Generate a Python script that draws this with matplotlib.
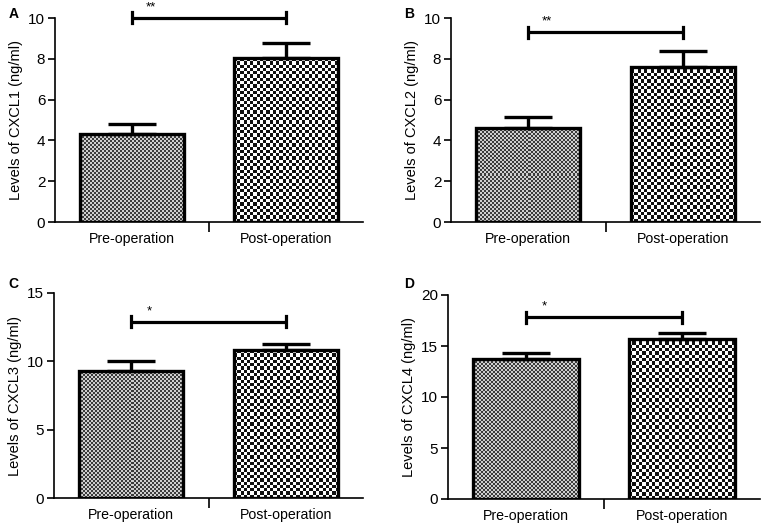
import matplotlib
matplotlib.use("Agg")
import matplotlib.pyplot as plt
from matplotlib.colors import ListedColormap
import numpy as np

plt.rcParams['font.family'] = ['Liberation Sans', 'DejaVu Sans']

groups = ["Pre-operation", "Post-operation"]
panels = ["A", "B", "C", "D"]
ylabels = ["Levels of CXCL1 (ng/ml)", "Levels of CXCL2 (ng/ml)",
           "Levels of CXCL3 (ng/ml)", "Levels of CXCL4 (ng/ml)"]
means = [[4.31, 8.03], [4.62, 7.61], [9.31, 10.8], [13.7, 15.69]]
errs = [[0.48, 0.76], [0.54, 0.77], [0.69, 0.49], [0.59, 0.56]]
ymax = [10, 10, 15, 20]
ystep = [2, 2, 5, 5]
sig_y = [10.0, 9.3, 12.88, 17.8]
sig_txt = ["**", "**", "*", "*"]

W, H = 765, 528
# axes boxes in pixels: left, top, right, bottom
boxes = [(55, 18, 363, 222), (451, 18, 760, 222),
         (54, 293, 363, 498), (448, 295, 760, 499)]
letter_pos = [(9, 14), (404, 14), (8, 284), (404, 284)]

fig = plt.figure(figsize=(W / 100, H / 100), dpi=100)

pre_cmap = ListedColormap(['#cfcfcf', '#3c3c3c'])
post_cmap = ListedColormap(['#ffffff', '#101010'])
cells = [2.0, 3.3]
cmaps = [pre_cmap, post_cmap]

x = np.arange(len(groups))
bw = 0.675

for k in range(4):
    l, t, r, b = boxes[k]
    ax = fig.add_axes([l / W, 1 - b / H, (r - l) / W, (b - t) / H])
    ax.set_xlim(-0.5, 1.5)
    ax.set_ylim(0, ymax[k])
    pxx = ax.bbox.width / 2.0
    pxy = ax.bbox.height / ymax[k]

    for i in range(len(groups)):
        x0, x1 = x[i] - bw / 2, x[i] + bw / 2
        h = means[k][i]
        nc = max(1, int(round((x1 - x0) * pxx / cells[i])))
        nr = max(1, int(round(h * pxy / cells[i])))
        jj, ii = np.meshgrid(np.arange(nc), np.arange(nr))
        pat = (ii + jj) % 2
        ax.imshow(pat, cmap=cmaps[i], extent=[x0, x1, 0, h], aspect='auto',
                  interpolation='nearest', origin='lower', zorder=1)
    ax.bar(x, means[k], width=bw, facecolor='none', edgecolor='black',
           linewidth=2.4, zorder=3)
    ax.errorbar(x, means[k], yerr=[[0, 0], errs[k]], fmt='none', ecolor='black',
                elinewidth=2.4, capsize=17, capthick=2.4, zorder=2)
    ax.set_xlim(-0.5, 1.5)
    ax.set_ylim(0, ymax[k])

    # significance bracket
    ch = 5.5 / pxy
    ax.plot([0, 1], [sig_y[k], sig_y[k]], color='black', lw=2.3, clip_on=False,
            solid_capstyle='butt')
    for xx in [0, 1]:
        ax.plot([xx, xx], [sig_y[k] - ch, sig_y[k] + ch], color='black', lw=2.3,
                clip_on=False)
    ax.text(0.12, sig_y[k] + 5 / pxy, sig_txt[k], ha='center', va='bottom',
            fontsize=9.5, clip_on=False)

    for s in ['top', 'right']:
        ax.spines[s].set_visible(False)
    for s in ['left', 'bottom']:
        ax.spines[s].set_linewidth(1.2)

    ax.set_yticks(np.arange(0, ymax[k] + 0.1, ystep[k]))
    ax.tick_params(axis='y', length=5, width=1.2, labelsize=11, pad=2)
    ax.set_xticks([0.5])
    ax.set_xticklabels([''])
    ax.tick_params(axis='x', which='major', length=7, width=1.2)
    ax.set_xticks(x, minor=True)
    ax.set_xticklabels(groups, minor=True)
    ax.tick_params(axis='x', which='minor', length=0, labelsize=10.2, pad=7)
    ax.set_ylabel(ylabels[k], fontsize=10.5, labelpad=4)

    fig.text(letter_pos[k][0] / W, 1 - letter_pos[k][1] / H, panels[k],
             fontsize=10, fontweight='bold', va='center', ha='left')

fig.savefig("out.png", dpi=100)
